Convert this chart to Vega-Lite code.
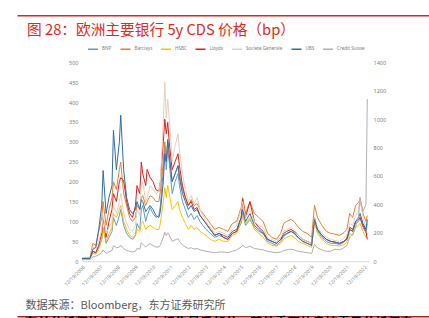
{
"$schema": "https://vega.github.io/schema/vega-lite/v6.json",
"background": "white",
"padding": {"left": 17, "top": 15.25, "right": 0, "bottom": 0},
"spacing": 6,
"config": {"view": {"stroke": null}, "font": "Noto Sans", "axisX": {"labelOverlap": false}},
"resolve": {"scale": {"color": "independent"}, "legend": {"color": "independent"}},
"datasets": {
"right": [
{"d":"2006-12-19","s":"Credit Suisse","v":10},{"d":"2007-03","s":"Credit Suisse","v":12},{"d":"2007-06","s":"Credit Suisse","v":12},{"d":"2007-08","s":"Credit Suisse","v":30},{"d":"2007-10","s":"Credit Suisse","v":35},{"d":"2007-12","s":"Credit Suisse","v":45},{"d":"2008-02","s":"Credit Suisse","v":60},{"d":"2008-03","s":"Credit Suisse","v":80},{"d":"2008-05","s":"Credit Suisse","v":55},{"d":"2008-07","s":"Credit Suisse","v":65},{"d":"2008-09","s":"Credit Suisse","v":75},{"d":"2008-10","s":"Credit Suisse","v":110},{"d":"2008-12","s":"Credit Suisse","v":95},{"d":"2009-02","s":"Credit Suisse","v":100},{"d":"2009-03","s":"Credit Suisse","v":113},{"d":"2009-05","s":"Credit Suisse","v":90},{"d":"2009-07","s":"Credit Suisse","v":75},{"d":"2009-09","s":"Credit Suisse","v":70},{"d":"2009-11","s":"Credit Suisse","v":65},{"d":"2010-01","s":"Credit Suisse","v":70},{"d":"2010-02","s":"Credit Suisse","v":90},{"d":"2010-04","s":"Credit Suisse","v":85},{"d":"2010-05","s":"Credit Suisse","v":130},{"d":"2010-06","s":"Credit Suisse","v":120},{"d":"2010-08","s":"Credit Suisse","v":100},{"d":"2010-09","s":"Credit Suisse","v":110},{"d":"2010-11","s":"Credit Suisse","v":125},{"d":"2011-01","s":"Credit Suisse","v":110},{"d":"2011-03","s":"Credit Suisse","v":100},{"d":"2011-05","s":"Credit Suisse","v":100},{"d":"2011-06","s":"Credit Suisse","v":115},{"d":"2011-08","s":"Credit Suisse","v":170},{"d":"2011-09","s":"Credit Suisse","v":204},{"d":"2011-10","s":"Credit Suisse","v":180},{"d":"2011-11","s":"Credit Suisse","v":200},{"d":"2011-12","s":"Credit Suisse","v":185},{"d":"2012-02","s":"Credit Suisse","v":140},{"d":"2012-04","s":"Credit Suisse","v":150},{"d":"2012-06","s":"Credit Suisse","v":160},{"d":"2012-07","s":"Credit Suisse","v":140},{"d":"2012-09","s":"Credit Suisse","v":115},{"d":"2012-11","s":"Credit Suisse","v":100},{"d":"2013-01","s":"Credit Suisse","v":90},{"d":"2013-03","s":"Credit Suisse","v":95},{"d":"2013-05","s":"Credit Suisse","v":85},{"d":"2013-07","s":"Credit Suisse","v":90},{"d":"2013-09","s":"Credit Suisse","v":80},{"d":"2013-11","s":"Credit Suisse","v":75},{"d":"2014-01","s":"Credit Suisse","v":70},{"d":"2014-04","s":"Credit Suisse","v":65},{"d":"2014-07","s":"Credit Suisse","v":60},{"d":"2014-10","s":"Credit Suisse","v":65},{"d":"2015-01","s":"Credit Suisse","v":65},{"d":"2015-04","s":"Credit Suisse","v":60},{"d":"2015-07","s":"Credit Suisse","v":70},{"d":"2015-10","s":"Credit Suisse","v":80},{"d":"2016-01","s":"Credit Suisse","v":100},{"d":"2016-02","s":"Credit Suisse","v":113},{"d":"2016-04","s":"Credit Suisse","v":95},{"d":"2016-07","s":"Credit Suisse","v":105},{"d":"2016-10","s":"Credit Suisse","v":90},{"d":"2017-01","s":"Credit Suisse","v":85},{"d":"2017-04","s":"Credit Suisse","v":80},{"d":"2017-07","s":"Credit Suisse","v":70},{"d":"2017-10","s":"Credit Suisse","v":65},{"d":"2018-01","s":"Credit Suisse","v":60},{"d":"2018-04","s":"Credit Suisse","v":65},{"d":"2018-06","s":"Credit Suisse","v":75},{"d":"2018-08","s":"Credit Suisse","v":80},{"d":"2018-11","s":"Credit Suisse","v":85},{"d":"2019-01","s":"Credit Suisse","v":80},{"d":"2019-04","s":"Credit Suisse","v":70},{"d":"2019-07","s":"Credit Suisse","v":65},{"d":"2019-10","s":"Credit Suisse","v":60},{"d":"2020-01","s":"Credit Suisse","v":55},{"d":"2020-03","s":"Credit Suisse","v":120},{"d":"2020-05","s":"Credit Suisse","v":95},{"d":"2020-08","s":"Credit Suisse","v":80},{"d":"2020-11","s":"Credit Suisse","v":70},{"d":"2021-02","s":"Credit Suisse","v":70},{"d":"2021-05","s":"Credit Suisse","v":85},{"d":"2021-08","s":"Credit Suisse","v":80},{"d":"2021-11","s":"Credit Suisse","v":95},{"d":"2022-01","s":"Credit Suisse","v":110},{"d":"2022-03","s":"Credit Suisse","v":170},{"d":"2022-05","s":"Credit Suisse","v":190},{"d":"2022-07","s":"Credit Suisse","v":240},{"d":"2022-09","s":"Credit Suisse","v":320},{"d":"2022-10","s":"Credit Suisse","v":450},{"d":"2022-12","s":"Credit Suisse","v":350},{"d":"2023-02","s":"Credit Suisse","v":400},{"d":"2023-03","s":"Credit Suisse","v":1140}
],
"left": [
{"d":"2006-12-19","s":"BNP","v":8},{"d":"2007-03","s":"BNP","v":9},{"d":"2007-06","s":"BNP","v":8},{"d":"2007-08","s":"BNP","v":25},{"d":"2007-10","s":"BNP","v":20},{"d":"2007-12","s":"BNP","v":35},{"d":"2008-02","s":"BNP","v":55},{"d":"2008-03","s":"BNP","v":85},{"d":"2008-05","s":"BNP","v":45},{"d":"2008-07","s":"BNP","v":60},{"d":"2008-09","s":"BNP","v":75},{"d":"2008-10","s":"BNP","v":110},{"d":"2008-12","s":"BNP","v":90},{"d":"2009-02","s":"BNP","v":115},{"d":"2009-03","s":"BNP","v":130},{"d":"2009-05","s":"BNP","v":90},{"d":"2009-07","s":"BNP","v":70},{"d":"2009-09","s":"BNP","v":60},{"d":"2009-11","s":"BNP","v":55},{"d":"2010-01","s":"BNP","v":65},{"d":"2010-02","s":"BNP","v":95},{"d":"2010-04","s":"BNP","v":80},{"d":"2010-05","s":"BNP","v":130},{"d":"2010-06","s":"BNP","v":140},{"d":"2010-08","s":"BNP","v":100},{"d":"2010-09","s":"BNP","v":115},{"d":"2010-11","s":"BNP","v":135},{"d":"2011-01","s":"BNP","v":120},{"d":"2011-03","s":"BNP","v":110},{"d":"2011-05","s":"BNP","v":115},{"d":"2011-06","s":"BNP","v":140},{"d":"2011-08","s":"BNP","v":230},{"d":"2011-09","s":"BNP","v":290},{"d":"2011-10","s":"BNP","v":230},{"d":"2011-11","s":"BNP","v":280},{"d":"2011-12","s":"BNP","v":250},{"d":"2012-02","s":"BNP","v":170},{"d":"2012-04","s":"BNP","v":200},{"d":"2012-06","s":"BNP","v":220},{"d":"2012-07","s":"BNP","v":190},{"d":"2012-09","s":"BNP","v":150},{"d":"2012-11","s":"BNP","v":130},{"d":"2013-01","s":"BNP","v":110},{"d":"2013-03","s":"BNP","v":120},{"d":"2013-05","s":"BNP","v":105},{"d":"2013-07","s":"BNP","v":115},{"d":"2013-09","s":"BNP","v":100},{"d":"2013-11","s":"BNP","v":90},{"d":"2014-01","s":"BNP","v":80},{"d":"2014-04","s":"BNP","v":70},{"d":"2014-07","s":"BNP","v":60},{"d":"2014-10","s":"BNP","v":65},{"d":"2015-01","s":"BNP","v":60},{"d":"2015-04","s":"BNP","v":55},{"d":"2015-07","s":"BNP","v":70},{"d":"2015-10","s":"BNP","v":75},{"d":"2016-01","s":"BNP","v":95},{"d":"2016-02","s":"BNP","v":120},{"d":"2016-04","s":"BNP","v":90},{"d":"2016-07","s":"BNP","v":105},{"d":"2016-10","s":"BNP","v":85},{"d":"2017-01","s":"BNP","v":75},{"d":"2017-04","s":"BNP","v":70},{"d":"2017-07","s":"BNP","v":50},{"d":"2017-10","s":"BNP","v":45},{"d":"2018-01","s":"BNP","v":40},{"d":"2018-04","s":"BNP","v":50},{"d":"2018-06","s":"BNP","v":62},{"d":"2018-08","s":"BNP","v":68},{"d":"2018-11","s":"BNP","v":75},{"d":"2019-01","s":"BNP","v":72},{"d":"2019-04","s":"BNP","v":58},{"d":"2019-07","s":"BNP","v":50},{"d":"2019-10","s":"BNP","v":45},{"d":"2020-01","s":"BNP","v":40},{"d":"2020-03","s":"BNP","v":100},{"d":"2020-05","s":"BNP","v":75},{"d":"2020-08","s":"BNP","v":60},{"d":"2020-11","s":"BNP","v":50},{"d":"2021-02","s":"BNP","v":45},{"d":"2021-05","s":"BNP","v":45},{"d":"2021-08","s":"BNP","v":42},{"d":"2021-11","s":"BNP","v":48},{"d":"2022-01","s":"BNP","v":55},{"d":"2022-03","s":"BNP","v":80},{"d":"2022-05","s":"BNP","v":75},{"d":"2022-07","s":"BNP","v":95},{"d":"2022-09","s":"BNP","v":100},{"d":"2022-10","s":"BNP","v":110},{"d":"2022-12","s":"BNP","v":85},{"d":"2023-02","s":"BNP","v":72},{"d":"2023-03","s":"BNP","v":95},
{"d":"2006-12-19","s":"Barclays","v":8},{"d":"2007-03","s":"Barclays","v":9},{"d":"2007-06","s":"Barclays","v":9},{"d":"2007-08","s":"Barclays","v":45},{"d":"2007-10","s":"Barclays","v":40},{"d":"2007-12","s":"Barclays","v":75},{"d":"2008-02","s":"Barclays","v":110},{"d":"2008-03","s":"Barclays","v":150},{"d":"2008-05","s":"Barclays","v":90},{"d":"2008-07","s":"Barclays","v":130},{"d":"2008-09","s":"Barclays","v":160},{"d":"2008-10","s":"Barclays","v":200},{"d":"2008-12","s":"Barclays","v":180},{"d":"2009-02","s":"Barclays","v":230},{"d":"2009-03","s":"Barclays","v":249},{"d":"2009-05","s":"Barclays","v":170},{"d":"2009-07","s":"Barclays","v":140},{"d":"2009-09","s":"Barclays","v":110},{"d":"2009-11","s":"Barclays","v":100},{"d":"2010-01","s":"Barclays","v":110},{"d":"2010-02","s":"Barclays","v":140},{"d":"2010-04","s":"Barclays","v":130},{"d":"2010-05","s":"Barclays","v":160},{"d":"2010-06","s":"Barclays","v":165},{"d":"2010-08","s":"Barclays","v":140},{"d":"2010-09","s":"Barclays","v":150},{"d":"2010-11","s":"Barclays","v":165},{"d":"2011-01","s":"Barclays","v":160},{"d":"2011-03","s":"Barclays","v":150},{"d":"2011-05","s":"Barclays","v":150},{"d":"2011-06","s":"Barclays","v":175},{"d":"2011-08","s":"Barclays","v":250},{"d":"2011-09","s":"Barclays","v":300},{"d":"2011-10","s":"Barclays","v":260},{"d":"2011-11","s":"Barclays","v":300},{"d":"2011-12","s":"Barclays","v":260},{"d":"2012-02","s":"Barclays","v":200},{"d":"2012-04","s":"Barclays","v":220},{"d":"2012-06","s":"Barclays","v":240},{"d":"2012-07","s":"Barclays","v":220},{"d":"2012-09","s":"Barclays","v":180},{"d":"2012-11","s":"Barclays","v":160},{"d":"2013-01","s":"Barclays","v":140},{"d":"2013-03","s":"Barclays","v":155},{"d":"2013-05","s":"Barclays","v":140},{"d":"2013-07","s":"Barclays","v":145},{"d":"2013-09","s":"Barclays","v":130},{"d":"2013-11","s":"Barclays","v":120},{"d":"2014-01","s":"Barclays","v":110},{"d":"2014-04","s":"Barclays","v":95},{"d":"2014-07","s":"Barclays","v":80},{"d":"2014-10","s":"Barclays","v":85},{"d":"2015-01","s":"Barclays","v":80},{"d":"2015-04","s":"Barclays","v":75},{"d":"2015-07","s":"Barclays","v":95},{"d":"2015-10","s":"Barclays","v":100},{"d":"2016-01","s":"Barclays","v":135},{"d":"2016-02","s":"Barclays","v":160},{"d":"2016-04","s":"Barclays","v":120},{"d":"2016-07","s":"Barclays","v":150},{"d":"2016-10","s":"Barclays","v":120},{"d":"2017-01","s":"Barclays","v":110},{"d":"2017-04","s":"Barclays","v":100},{"d":"2017-07","s":"Barclays","v":70},{"d":"2017-10","s":"Barclays","v":60},{"d":"2018-01","s":"Barclays","v":55},{"d":"2018-04","s":"Barclays","v":70},{"d":"2018-06","s":"Barclays","v":95},{"d":"2018-08","s":"Barclays","v":100},{"d":"2018-11","s":"Barclays","v":105},{"d":"2019-01","s":"Barclays","v":100},{"d":"2019-04","s":"Barclays","v":85},{"d":"2019-07","s":"Barclays","v":75},{"d":"2019-10","s":"Barclays","v":70},{"d":"2020-01","s":"Barclays","v":60},{"d":"2020-03","s":"Barclays","v":141},{"d":"2020-05","s":"Barclays","v":110},{"d":"2020-08","s":"Barclays","v":90},{"d":"2020-11","s":"Barclays","v":75},{"d":"2021-02","s":"Barclays","v":70},{"d":"2021-05","s":"Barclays","v":68},{"d":"2021-08","s":"Barclays","v":65},{"d":"2021-11","s":"Barclays","v":72},{"d":"2022-01","s":"Barclays","v":80},{"d":"2022-03","s":"Barclays","v":120},{"d":"2022-05","s":"Barclays","v":110},{"d":"2022-07","s":"Barclays","v":140},{"d":"2022-09","s":"Barclays","v":148},{"d":"2022-10","s":"Barclays","v":153},{"d":"2022-12","s":"Barclays","v":120},{"d":"2023-02","s":"Barclays","v":100},{"d":"2023-03","s":"Barclays","v":115},
{"d":"2006-12-19","s":"HSBC","v":6},{"d":"2007-03","s":"HSBC","v":7},{"d":"2007-06","s":"HSBC","v":6},{"d":"2007-08","s":"HSBC","v":20},{"d":"2007-10","s":"HSBC","v":18},{"d":"2007-12","s":"HSBC","v":30},{"d":"2008-02","s":"HSBC","v":55},{"d":"2008-03","s":"HSBC","v":85},{"d":"2008-05","s":"HSBC","v":50},{"d":"2008-07","s":"HSBC","v":70},{"d":"2008-09","s":"HSBC","v":85},{"d":"2008-10","s":"HSBC","v":120},{"d":"2008-12","s":"HSBC","v":110},{"d":"2009-02","s":"HSBC","v":130},{"d":"2009-03","s":"HSBC","v":140},{"d":"2009-05","s":"HSBC","v":100},{"d":"2009-07","s":"HSBC","v":80},{"d":"2009-09","s":"HSBC","v":65},{"d":"2009-11","s":"HSBC","v":60},{"d":"2010-01","s":"HSBC","v":65},{"d":"2010-02","s":"HSBC","v":80},{"d":"2010-04","s":"HSBC","v":75},{"d":"2010-05","s":"HSBC","v":95},{"d":"2010-06","s":"HSBC","v":100},{"d":"2010-08","s":"HSBC","v":80},{"d":"2010-09","s":"HSBC","v":85},{"d":"2010-11","s":"HSBC","v":90},{"d":"2011-01","s":"HSBC","v":85},{"d":"2011-03","s":"HSBC","v":80},{"d":"2011-05","s":"HSBC","v":80},{"d":"2011-06","s":"HSBC","v":95},{"d":"2011-08","s":"HSBC","v":150},{"d":"2011-09","s":"HSBC","v":185},{"d":"2011-10","s":"HSBC","v":160},{"d":"2011-11","s":"HSBC","v":191},{"d":"2011-12","s":"HSBC","v":170},{"d":"2012-02","s":"HSBC","v":130},{"d":"2012-04","s":"HSBC","v":140},{"d":"2012-06","s":"HSBC","v":150},{"d":"2012-07","s":"HSBC","v":130},{"d":"2012-09","s":"HSBC","v":110},{"d":"2012-11","s":"HSBC","v":95},{"d":"2013-01","s":"HSBC","v":80},{"d":"2013-03","s":"HSBC","v":90},{"d":"2013-05","s":"HSBC","v":80},{"d":"2013-07","s":"HSBC","v":85},{"d":"2013-09","s":"HSBC","v":75},{"d":"2013-11","s":"HSBC","v":70},{"d":"2014-01","s":"HSBC","v":65},{"d":"2014-04","s":"HSBC","v":55},{"d":"2014-07","s":"HSBC","v":50},{"d":"2014-10","s":"HSBC","v":55},{"d":"2015-01","s":"HSBC","v":50},{"d":"2015-04","s":"HSBC","v":50},{"d":"2015-07","s":"HSBC","v":65},{"d":"2015-10","s":"HSBC","v":70},{"d":"2016-01","s":"HSBC","v":100},{"d":"2016-02","s":"HSBC","v":115},{"d":"2016-04","s":"HSBC","v":95},{"d":"2016-07","s":"HSBC","v":110},{"d":"2016-10","s":"HSBC","v":80},{"d":"2017-01","s":"HSBC","v":70},{"d":"2017-04","s":"HSBC","v":60},{"d":"2017-07","s":"HSBC","v":45},{"d":"2017-10","s":"HSBC","v":40},{"d":"2018-01","s":"HSBC","v":38},{"d":"2018-04","s":"HSBC","v":45},{"d":"2018-06","s":"HSBC","v":55},{"d":"2018-08","s":"HSBC","v":60},{"d":"2018-11","s":"HSBC","v":65},{"d":"2019-01","s":"HSBC","v":60},{"d":"2019-04","s":"HSBC","v":50},{"d":"2019-07","s":"HSBC","v":45},{"d":"2019-10","s":"HSBC","v":40},{"d":"2020-01","s":"HSBC","v":35},{"d":"2020-03","s":"HSBC","v":100},{"d":"2020-05","s":"HSBC","v":70},{"d":"2020-08","s":"HSBC","v":55},{"d":"2020-11","s":"HSBC","v":45},{"d":"2021-02","s":"HSBC","v":40},{"d":"2021-05","s":"HSBC","v":40},{"d":"2021-08","s":"HSBC","v":38},{"d":"2021-11","s":"HSBC","v":42},{"d":"2022-01","s":"HSBC","v":48},{"d":"2022-03","s":"HSBC","v":70},{"d":"2022-05","s":"HSBC","v":65},{"d":"2022-07","s":"HSBC","v":85},{"d":"2022-09","s":"HSBC","v":90},{"d":"2022-10","s":"HSBC","v":95},{"d":"2022-12","s":"HSBC","v":75},{"d":"2023-02","s":"HSBC","v":60},{"d":"2023-03","s":"HSBC","v":70},
{"d":"2006-12-19","s":"Lloyds","v":6},{"d":"2007-03","s":"Lloyds","v":7},{"d":"2007-06","s":"Lloyds","v":7},{"d":"2007-08","s":"Lloyds","v":25},{"d":"2007-10","s":"Lloyds","v":22},{"d":"2007-12","s":"Lloyds","v":40},{"d":"2008-02","s":"Lloyds","v":70},{"d":"2008-03","s":"Lloyds","v":110},{"d":"2008-05","s":"Lloyds","v":60},{"d":"2008-07","s":"Lloyds","v":100},{"d":"2008-09","s":"Lloyds","v":130},{"d":"2008-10","s":"Lloyds","v":170},{"d":"2008-12","s":"Lloyds","v":150},{"d":"2009-02","s":"Lloyds","v":200},{"d":"2009-03","s":"Lloyds","v":210},{"d":"2009-05","s":"Lloyds","v":203},{"d":"2009-07","s":"Lloyds","v":150},{"d":"2009-09","s":"Lloyds","v":120},{"d":"2009-11","s":"Lloyds","v":110},{"d":"2010-01","s":"Lloyds","v":140},{"d":"2010-02","s":"Lloyds","v":190},{"d":"2010-04","s":"Lloyds","v":170},{"d":"2010-05","s":"Lloyds","v":249},{"d":"2010-06","s":"Lloyds","v":220},{"d":"2010-08","s":"Lloyds","v":190},{"d":"2010-09","s":"Lloyds","v":231},{"d":"2010-11","s":"Lloyds","v":210},{"d":"2011-01","s":"Lloyds","v":200},{"d":"2011-03","s":"Lloyds","v":180},{"d":"2011-05","s":"Lloyds","v":175},{"d":"2011-06","s":"Lloyds","v":200},{"d":"2011-08","s":"Lloyds","v":300},{"d":"2011-09","s":"Lloyds","v":357},{"d":"2011-10","s":"Lloyds","v":320},{"d":"2011-11","s":"Lloyds","v":349},{"d":"2011-12","s":"Lloyds","v":300},{"d":"2012-02","s":"Lloyds","v":230},{"d":"2012-04","s":"Lloyds","v":250},{"d":"2012-06","s":"Lloyds","v":270},{"d":"2012-07","s":"Lloyds","v":240},{"d":"2012-09","s":"Lloyds","v":190},{"d":"2012-11","s":"Lloyds","v":160},{"d":"2013-01","s":"Lloyds","v":140},{"d":"2013-03","s":"Lloyds","v":150},{"d":"2013-05","s":"Lloyds","v":130},{"d":"2013-07","s":"Lloyds","v":135},{"d":"2013-09","s":"Lloyds","v":115},{"d":"2013-11","s":"Lloyds","v":105},{"d":"2014-01","s":"Lloyds","v":95},{"d":"2014-04","s":"Lloyds","v":80},{"d":"2014-07","s":"Lloyds","v":65},{"d":"2014-10","s":"Lloyds","v":70},{"d":"2015-01","s":"Lloyds","v":60},{"d":"2015-04","s":"Lloyds","v":55},{"d":"2015-07","s":"Lloyds","v":70},{"d":"2015-10","s":"Lloyds","v":75},{"d":"2016-01","s":"Lloyds","v":110},{"d":"2016-02","s":"Lloyds","v":156},{"d":"2016-04","s":"Lloyds","v":110},{"d":"2016-07","s":"Lloyds","v":150},{"d":"2016-10","s":"Lloyds","v":100},{"d":"2017-01","s":"Lloyds","v":85},{"d":"2017-04","s":"Lloyds","v":75},{"d":"2017-07","s":"Lloyds","v":55},{"d":"2017-10","s":"Lloyds","v":50},{"d":"2018-01","s":"Lloyds","v":45},{"d":"2018-04","s":"Lloyds","v":55},{"d":"2018-06","s":"Lloyds","v":70},{"d":"2018-08","s":"Lloyds","v":75},{"d":"2018-11","s":"Lloyds","v":80},{"d":"2019-01","s":"Lloyds","v":75},{"d":"2019-04","s":"Lloyds","v":65},{"d":"2019-07","s":"Lloyds","v":55},{"d":"2019-10","s":"Lloyds","v":50},{"d":"2020-01","s":"Lloyds","v":45},{"d":"2020-03","s":"Lloyds","v":110},{"d":"2020-05","s":"Lloyds","v":80},{"d":"2020-08","s":"Lloyds","v":65},{"d":"2020-11","s":"Lloyds","v":55},{"d":"2021-02","s":"Lloyds","v":50},{"d":"2021-05","s":"Lloyds","v":48},{"d":"2021-08","s":"Lloyds","v":45},{"d":"2021-11","s":"Lloyds","v":50},{"d":"2022-01","s":"Lloyds","v":58},{"d":"2022-03","s":"Lloyds","v":85},{"d":"2022-05","s":"Lloyds","v":80},{"d":"2022-07","s":"Lloyds","v":100},{"d":"2022-09","s":"Lloyds","v":105},{"d":"2022-10","s":"Lloyds","v":110},{"d":"2022-12","s":"Lloyds","v":90},{"d":"2023-02","s":"Lloyds","v":75},{"d":"2023-03","s":"Lloyds","v":55},
{"d":"2006-12-19","s":"Societe Generale","v":9},{"d":"2007-03","s":"Societe Generale","v":10},{"d":"2007-06","s":"Societe Generale","v":10},{"d":"2007-08","s":"Societe Generale","v":35},{"d":"2007-10","s":"Societe Generale","v":30},{"d":"2007-12","s":"Societe Generale","v":50},{"d":"2008-02","s":"Societe Generale","v":80},{"d":"2008-03","s":"Societe Generale","v":115},{"d":"2008-05","s":"Societe Generale","v":70},{"d":"2008-07","s":"Societe Generale","v":85},{"d":"2008-09","s":"Societe Generale","v":100},{"d":"2008-10","s":"Societe Generale","v":140},{"d":"2008-12","s":"Societe Generale","v":120},{"d":"2009-02","s":"Societe Generale","v":150},{"d":"2009-03","s":"Societe Generale","v":170},{"d":"2009-05","s":"Societe Generale","v":120},{"d":"2009-07","s":"Societe Generale","v":95},{"d":"2009-09","s":"Societe Generale","v":80},{"d":"2009-11","s":"Societe Generale","v":75},{"d":"2010-01","s":"Societe Generale","v":90},{"d":"2010-02","s":"Societe Generale","v":130},{"d":"2010-04","s":"Societe Generale","v":115},{"d":"2010-05","s":"Societe Generale","v":190},{"d":"2010-06","s":"Societe Generale","v":200},{"d":"2010-08","s":"Societe Generale","v":150},{"d":"2010-09","s":"Societe Generale","v":160},{"d":"2010-11","s":"Societe Generale","v":190},{"d":"2011-01","s":"Societe Generale","v":180},{"d":"2011-03","s":"Societe Generale","v":170},{"d":"2011-05","s":"Societe Generale","v":175},{"d":"2011-06","s":"Societe Generale","v":200},{"d":"2011-08","s":"Societe Generale","v":350},{"d":"2011-09","s":"Societe Generale","v":450},{"d":"2011-10","s":"Societe Generale","v":360},{"d":"2011-11","s":"Societe Generale","v":407},{"d":"2011-12","s":"Societe Generale","v":360},{"d":"2012-02","s":"Societe Generale","v":250},{"d":"2012-04","s":"Societe Generale","v":290},{"d":"2012-06","s":"Societe Generale","v":320},{"d":"2012-07","s":"Societe Generale","v":280},{"d":"2012-09","s":"Societe Generale","v":220},{"d":"2012-11","s":"Societe Generale","v":180},{"d":"2013-01","s":"Societe Generale","v":150},{"d":"2013-03","s":"Societe Generale","v":165},{"d":"2013-05","s":"Societe Generale","v":145},{"d":"2013-07","s":"Societe Generale","v":160},{"d":"2013-09","s":"Societe Generale","v":130},{"d":"2013-11","s":"Societe Generale","v":115},{"d":"2014-01","s":"Societe Generale","v":100},{"d":"2014-04","s":"Societe Generale","v":85},{"d":"2014-07","s":"Societe Generale","v":70},{"d":"2014-10","s":"Societe Generale","v":75},{"d":"2015-01","s":"Societe Generale","v":70},{"d":"2015-04","s":"Societe Generale","v":65},{"d":"2015-07","s":"Societe Generale","v":80},{"d":"2015-10","s":"Societe Generale","v":90},{"d":"2016-01","s":"Societe Generale","v":130},{"d":"2016-02","s":"Societe Generale","v":150},{"d":"2016-04","s":"Societe Generale","v":110},{"d":"2016-07","s":"Societe Generale","v":130},{"d":"2016-10","s":"Societe Generale","v":100},{"d":"2017-01","s":"Societe Generale","v":90},{"d":"2017-04","s":"Societe Generale","v":85},{"d":"2017-07","s":"Societe Generale","v":60},{"d":"2017-10","s":"Societe Generale","v":55},{"d":"2018-01","s":"Societe Generale","v":50},{"d":"2018-04","s":"Societe Generale","v":60},{"d":"2018-06","s":"Societe Generale","v":75},{"d":"2018-08","s":"Societe Generale","v":80},{"d":"2018-11","s":"Societe Generale","v":85},{"d":"2019-01","s":"Societe Generale","v":80},{"d":"2019-04","s":"Societe Generale","v":65},{"d":"2019-07","s":"Societe Generale","v":55},{"d":"2019-10","s":"Societe Generale","v":50},{"d":"2020-01","s":"Societe Generale","v":45},{"d":"2020-03","s":"Societe Generale","v":110},{"d":"2020-05","s":"Societe Generale","v":85},{"d":"2020-08","s":"Societe Generale","v":70},{"d":"2020-11","s":"Societe Generale","v":60},{"d":"2021-02","s":"Societe Generale","v":55},{"d":"2021-05","s":"Societe Generale","v":52},{"d":"2021-08","s":"Societe Generale","v":50},{"d":"2021-11","s":"Societe Generale","v":58},{"d":"2022-01","s":"Societe Generale","v":65},{"d":"2022-03","s":"Societe Generale","v":95},{"d":"2022-05","s":"Societe Generale","v":90},{"d":"2022-07","s":"Societe Generale","v":115},{"d":"2022-09","s":"Societe Generale","v":125},{"d":"2022-10","s":"Societe Generale","v":160},{"d":"2022-12","s":"Societe Generale","v":110},{"d":"2023-02","s":"Societe Generale","v":85},{"d":"2023-03","s":"Societe Generale","v":100},
{"d":"2006-12-19","s":"UBS","v":6},{"d":"2007-03","s":"UBS","v":7},{"d":"2007-06","s":"UBS","v":7},{"d":"2007-08","s":"UBS","v":30},{"d":"2007-10","s":"UBS","v":35},{"d":"2007-12","s":"UBS","v":80},{"d":"2008-02","s":"UBS","v":140},{"d":"2008-03","s":"UBS","v":228},{"d":"2008-05","s":"UBS","v":120},{"d":"2008-07","s":"UBS","v":160},{"d":"2008-09","s":"UBS","v":190},{"d":"2008-10","s":"UBS","v":329},{"d":"2008-12","s":"UBS","v":230},{"d":"2009-02","s":"UBS","v":300},{"d":"2009-03","s":"UBS","v":367},{"d":"2009-05","s":"UBS","v":230},{"d":"2009-07","s":"UBS","v":160},{"d":"2009-09","s":"UBS","v":130},{"d":"2009-11","s":"UBS","v":120},{"d":"2010-01","s":"UBS","v":130},{"d":"2010-02","s":"UBS","v":150},{"d":"2010-04","s":"UBS","v":130},{"d":"2010-05","s":"UBS","v":155},{"d":"2010-06","s":"UBS","v":150},{"d":"2010-08","s":"UBS","v":125},{"d":"2010-09","s":"UBS","v":130},{"d":"2010-11","s":"UBS","v":140},{"d":"2011-01","s":"UBS","v":130},{"d":"2011-03","s":"UBS","v":115},{"d":"2011-05","s":"UBS","v":110},{"d":"2011-06","s":"UBS","v":125},{"d":"2011-08","s":"UBS","v":200},{"d":"2011-09","s":"UBS","v":270},{"d":"2011-10","s":"UBS","v":250},{"d":"2011-11","s":"UBS","v":306},{"d":"2011-12","s":"UBS","v":270},{"d":"2012-02","s":"UBS","v":200},{"d":"2012-04","s":"UBS","v":220},{"d":"2012-06","s":"UBS","v":240},{"d":"2012-07","s":"UBS","v":210},{"d":"2012-09","s":"UBS","v":170},{"d":"2012-11","s":"UBS","v":150},{"d":"2013-01","s":"UBS","v":130},{"d":"2013-03","s":"UBS","v":140},{"d":"2013-05","s":"UBS","v":125},{"d":"2013-07","s":"UBS","v":130},{"d":"2013-09","s":"UBS","v":115},{"d":"2013-11","s":"UBS","v":105},{"d":"2014-01","s":"UBS","v":95},{"d":"2014-04","s":"UBS","v":80},{"d":"2014-07","s":"UBS","v":65},{"d":"2014-10","s":"UBS","v":70},{"d":"2015-01","s":"UBS","v":65},{"d":"2015-04","s":"UBS","v":60},{"d":"2015-07","s":"UBS","v":75},{"d":"2015-10","s":"UBS","v":80},{"d":"2016-01","s":"UBS","v":110},{"d":"2016-02","s":"UBS","v":130},{"d":"2016-04","s":"UBS","v":100},{"d":"2016-07","s":"UBS","v":120},{"d":"2016-10","s":"UBS","v":90},{"d":"2017-01","s":"UBS","v":80},{"d":"2017-04","s":"UBS","v":70},{"d":"2017-07","s":"UBS","v":55},{"d":"2017-10","s":"UBS","v":50},{"d":"2018-01","s":"UBS","v":45},{"d":"2018-04","s":"UBS","v":55},{"d":"2018-06","s":"UBS","v":65},{"d":"2018-08","s":"UBS","v":70},{"d":"2018-11","s":"UBS","v":75},{"d":"2019-01","s":"UBS","v":70},{"d":"2019-04","s":"UBS","v":60},{"d":"2019-07","s":"UBS","v":50},{"d":"2019-10","s":"UBS","v":45},{"d":"2020-01","s":"UBS","v":40},{"d":"2020-03","s":"UBS","v":105},{"d":"2020-05","s":"UBS","v":80},{"d":"2020-08","s":"UBS","v":65},{"d":"2020-11","s":"UBS","v":55},{"d":"2021-02","s":"UBS","v":50},{"d":"2021-05","s":"UBS","v":48},{"d":"2021-08","s":"UBS","v":45},{"d":"2021-11","s":"UBS","v":50},{"d":"2022-01","s":"UBS","v":55},{"d":"2022-03","s":"UBS","v":80},{"d":"2022-05","s":"UBS","v":75},{"d":"2022-07","s":"UBS","v":100},{"d":"2022-09","s":"UBS","v":110},{"d":"2022-10","s":"UBS","v":120},{"d":"2022-12","s":"UBS","v":95},{"d":"2023-02","s":"UBS","v":80},{"d":"2023-03","s":"UBS","v":105}
]
},
"vconcat": [
{
"width": 412, "height": 1,
"data": {"values": [{"p": 0}]},
"mark": {"type": "rule", "strokeOpacity": 0},
"encoding": {"x": {"field": "p", "type": "quantitative", "scale": {"domain": [0, 1]},
"axis": {"orient": "top", "domainColor": "#d9291d", "domainWidth": 1.5, "labels": false, "ticks": false, "grid": false, "title": null}}}
},
{
"title": {"text": "图 28：欧洲主要银行 5y CDS 价格（bp）", "anchor": "start", "frame": "group", "dx": 10, "offset": 6, "fontSize": 14.7, "color": "#e4281c", "font": "Noto Sans CJK SC", "fontWeight": "normal"},
"resolve": {"scale": {"color": "independent"}, "legend": {"color": "independent"}},
"spacing": 0,
"hconcat": [
{
"width": 8, "height": 1,
"data": {"values": [{"p": 0}]},
"mark": {"type": "rule", "strokeOpacity": 0},
"encoding": {"x": {"field": "p", "type": "quantitative", "scale": {"domain": [0, 1]}, "axis": null}}
},
{
"width": 287, "height": 199,
"encoding": {
"x": {"field": "d", "type": "temporal",
"scale": {"domain": [{"year": 2006, "month": 12, "date": 19}, {"year": 2023, "month": 4, "date": 5}]},
"axis": {"values": [{"year":2006,"month":12,"date":19},{"year":2007,"month":12,"date":19},{"year":2008,"month":12,"date":19},{"year":2009,"month":12,"date":19},{"year":2010,"month":12,"date":19},{"year":2011,"month":12,"date":19},{"year":2012,"month":12,"date":19},{"year":2013,"month":12,"date":19},{"year":2014,"month":12,"date":19},{"year":2015,"month":12,"date":19},{"year":2016,"month":12,"date":19},{"year":2017,"month":12,"date":19},{"year":2018,"month":12,"date":19},{"year":2019,"month":12,"date":19},{"year":2020,"month":12,"date":19},{"year":2021,"month":12,"date":19},{"year":2022,"month":12,"date":19}],
"format": "%m/%d/%Y", "labelAngle": -45, "labelFontSize": 5, "labelColor": "#808080", "ticks": false, "domain": true, "domainColor": "#d9d9d9", "domainWidth": 1, "grid": false, "labelPadding": 3, "labelFlush": false, "labelOverlap": false, "labelSeparation": -12, "labelBound": false,
"title": "数据来源：Bloomberg，东方证券研究所", "titleX": -57, "titleY": 44, "titleAlign": "left", "titleBaseline": "middle", "titleFontSize": 11, "titleColor": "#595959", "titleFont": "Noto Sans CJK SC", "titleFontWeight": "normal"}}
},
"layer": [
{
"data": {"name": "left"},
"mark": {"type": "line", "strokeWidth": 1},
"encoding": {
"y": {"field": "v", "type": "quantitative", "scale": {"domain": [0, 500]},
"axis": {"values": [0,50,100,150,200,250,300,350,400,450,500], "labelFontSize": 5.5, "labelColor": "#808080", "ticks": false, "domain": false, "grid": false, "title": null, "labelPadding": 4, "minExtent": 25, "maxExtent": 25}},
"color": {"field": "s", "type": "nominal",
"scale": {"domain": ["BNP","Barclays","HSBC","Lloyds","Societe Generale","UBS","Credit Suisse"], "range": ["#5b9bd5","#ed7d31","#ffc000","#e0201c","#e3d2bc","#2f6ea8","#b0b0b0"]},
"legend": {"orient": "none", "legendX": 5, "legendY": -19, "direction": "horizontal", "columns": 7, "title": null, "symbolType": "stroke", "symbolSize": 100, "symbolStrokeWidth": 1.5, "labelFontSize": 4.6, "labelColor": "#808080", "columnPadding": 5.5, "labelOffset": 3}}
}
},
{
"data": {"name": "right"},
"mark": {"type": "line", "strokeWidth": 1},
"encoding": {
"y": {"field": "v", "type": "quantitative", "scale": {"domain": [0, 1400]},
"axis": {"orient": "right", "values": [0,200,400,600,800,1000,1200,1400], "format": "d", "labelFontSize": 5.5, "labelColor": "#808080", "ticks": false, "domain": false, "grid": false, "title": null, "labelPadding": 4}},
"color": {"field": "s", "type": "nominal"}
}
}
],
"resolve": {"scale": {"y": "independent"}}
}
]
},
{
"width": 412, "height": 1,
"data": {"values": [{"p": 0}]},
"mark": {"type": "rule", "strokeOpacity": 0},
"encoding": {"x": {"field": "p", "type": "quantitative", "scale": {"domain": [0, 1]},
"axis": {"orient": "top", "domainColor": "#9b2a20", "domainWidth": 1.5, "labels": false, "ticks": false, "grid": false, "title": null}}},
"title": {"text": "有关分析师的申明，见本报告最后部分。其他重要信息披露见分析师申明之后部分，或请与您的投资代表联系。", "orient": "bottom", "anchor": "start", "dx": 8, "offset": 0, "limit": 404, "fontSize": 12.5, "color": "#000000", "font": "Noto Sans CJK SC", "fontWeight": "bold"}
}
]
}
